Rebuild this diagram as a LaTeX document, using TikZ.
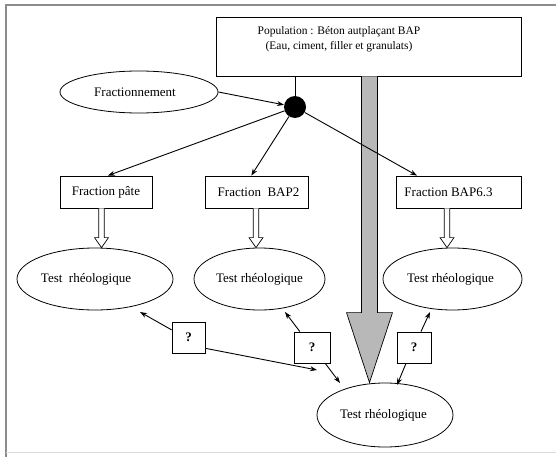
\documentclass[tikz,border=0pt]{standalone}
\usepackage{fontspec}
\setmainfont{Liberation Serif}
\usetikzlibrary{arrows.meta,shapes.geometric,calc}
\begin{document}
\begin{tikzpicture}[x=1pt,y=-1pt,
  fbox/.style={draw, line width=0.8pt, rectangle, inner sep=0pt, minimum height=32pt},
  qbox/.style={draw, line width=0.8pt, rectangle, inner sep=0pt, minimum height=31pt, font=\fontsize{13}{15}\selectfont\bfseries},
  oval/.style={draw, line width=0.8pt, ellipse, inner sep=0pt},
  txt/.style={inner sep=0pt, font=\fontsize{13}{15}\selectfont},
  arr/.style={line width=0.9pt, -{Stealth[length=7pt,width=5pt]}},
  thin/.style={line width=0.6pt}
]
\useasboundingbox (0,0) rectangle (556,457);
\fill[white] (0,0) rectangle (556,457);
% frame
\draw[black!45, line width=1.3pt] (556,5) -- (6,5) -- (6,457);
\draw[black!15, line width=0.8pt] (6,452) -- (556,452);

% nodes
\node[fbox, minimum width=305pt, minimum height=59pt] (pop) at (368.5,46.5) {};
\node[inner sep=0pt, align=center, font=\fontsize{11.5}{15}\selectfont] (poptxt) at (339,39.5)
  {Population : Béton autplaçant BAP\\(Eau, ciment, filler et granulats)};
\node[circle, fill=black, minimum size=22pt, inner sep=0pt] (dot) at (295,107) {};
\node[oval, minimum width=158pt, minimum height=42pt, txt] (frac) at (139,92) {\hspace{-8pt}Fractionnement};

\node[fbox, minimum width=92pt, txt] (fp) at (106,192) {Fraction pâte};
\node[fbox, minimum width=103pt, txt] (b2) at (256.5,192) {\hspace{4pt}Fraction~~BAP2};
\node[fbox, minimum width=125pt] (b6) at (458.5,192) {};
\node[txt] (b6txt) at (448.5,192) {Fraction BAP6.3};

\node[oval, minimum width=156pt, minimum height=62pt] (t1) at (95,279) {};
\node[txt] (t1txt) at (86,279) {Test~~rhéologique};
\node[oval, minimum width=131pt, minimum height=62pt, txt] (t2) at (259.5,279) {Test rhéologique};
\node[oval, minimum width=139pt, minimum height=62pt, txt] (t3) at (452.5,279) {\hspace{-4pt}Test rhéologique};
\node[oval, minimum width=136pt, minimum height=64pt, txt] (tb) at (385,415) {\hspace{-3pt}Test rhéologique};

\node[qbox, minimum width=33pt] (q1) at (188.5,337.5) {?};
\node[qbox, minimum width=36pt] (q2) at (312,347.5) {?};
\node[qbox, minimum width=34pt] (q3) at (414,347.5) {?};

% big gray arrow
\coordinate (g) at (369.5,0);
\draw[fill=black!28, line width=0.7pt] let \p1=(g |- pop.south), \p2=(g |- tb.north) in
    (\x1-8pt,\y1) -- (\x1-8pt,\y2+70pt) -- (\x1-23pt,\y2+70pt) -- (\x2,\y2)
    -- (\x1+23pt,\y2+70pt) -- (\x1+8pt,\y2+70pt) -- (\x1+8pt,\y1);

% thin line from population box to node
\draw[thin] (dot |- pop.south) -- (dot);

% fractionnement arrows
\draw[arr] (frac.east) -- (dot);
\draw[arr] (dot) -- ($(fp.north west)!0.52!(fp.north east)$);
\draw[arr] (dot) -- ($(b2.north west)!0.45!(b2.north east)$);
\draw[arr] (dot) -- ($(b6.north west)!0.17!(b6.north east)$);

% hollow arrows
\coordinate (h1) at (101.5,0);
\coordinate (h2) at (256,0);
\coordinate (h3) at (447,0);
\foreach \h/\b/\t in {h1/fp/t1, h2/b2/t2, h3/b6/t3}{
  \draw[fill=white, line width=0.7pt] let \p1=(\h |- \b.south), \p2=(\h |- \t.north) in
      (\x1-2.8pt,\y1) -- (\x1-2.8pt,\y2+10pt) -- (\x1-7pt,\y2+10pt) -- (\x1,\y2)
      -- (\x1+7pt,\y2+10pt) -- (\x1+2.8pt,\y2+10pt) -- (\x1+2.8pt,\y1);
}

% question connectors
\coordinate (e1a) at (140,312);
\coordinate (e1b) at (317,370);
\coordinate (e2a) at (285,312);
\coordinate (e2b) at (340,383);
\coordinate (e3a) at (430,312);
\coordinate (e3b) at (397,385);
\draw[arr] ($(q1.north west)!0.26!(q1.south west)$) -- (e1a);
\draw[arr] ($(q1.north east)!0.84!(q1.south east)$) -- (e1b);
\draw[arr] ($(q2.north west)!0.17!(q2.north east)$) -- (e2a);
\draw[arr] ($(q2.south west)!0.86!(q2.south east)$) -- (e2b);
\draw[arr] ($(q3.north west)!0.7!(q3.north east)$) -- (e3a);
\draw[arr] ($(q3.south west)!0.27!(q3.south east)$) -- (e3b);
\end{tikzpicture}
\end{document}
